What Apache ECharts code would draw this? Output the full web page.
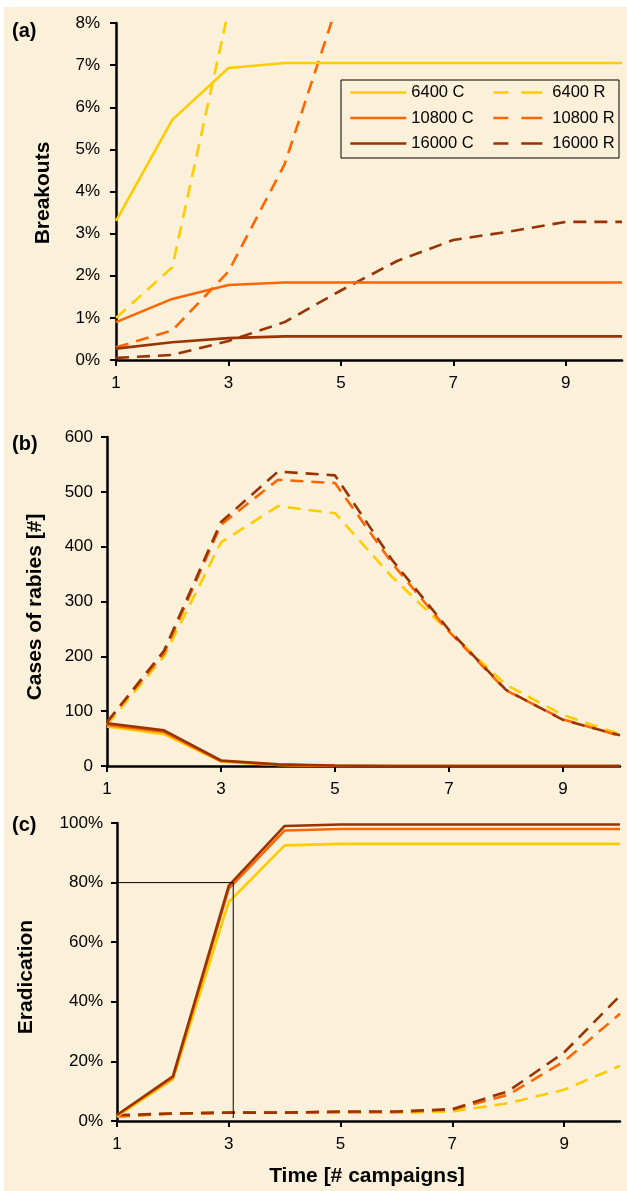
<!DOCTYPE html>
<html>
<head>
<meta charset="utf-8">
<script src="https://cdn.jsdelivr.net/npm/echarts@6/dist/echarts.min.js"></script>
<style>
  html, body { margin: 0; padding: 0; background: #ffffff; }
  #bg { position: absolute; left: 4px; top: 7px; width: 623px; height: 1184px; background: #FBF0D9; }
  #chart { position: absolute; left: 0; top: 0; width: 627px; height: 1191px; }
</style>
</head>
<body>
<div id="bg"></div>
<div id="chart"></div>
<script>
// ---- data ----
const campaigns = [1, 2, 3, 4, 5, 6, 7, 8, 9, 10];
const xTickValues = [1, 3, 5, 7, 9];

// (a) Breakouts [%]
const breakouts6400C  = [3.3, 5.7, 6.93, 7.05, 7.05, 7.05, 7.05, 7.05, 7.05, 7.05];
const breakouts10800C = [0.9, 1.45, 1.78, 1.84, 1.84, 1.84, 1.84, 1.84, 1.84, 1.84];
const breakouts16000C = [0.27, 0.42, 0.52, 0.56, 0.56, 0.56, 0.56, 0.56, 0.56, 0.56];
const breakouts6400R  = [1.0, 2.2, 8.3, null, null, null, null, null, null, null];
const breakouts10800R = [0.3, 0.7, 2.1, 4.65, 8.7, null, null, null, null, null];
const breakouts16000R = [0.05, 0.12, 0.45, 0.9, 1.65, 2.35, 2.85, 3.05, 3.28, 3.28];

// (b) Cases of rabies [#]
const cases6400C  = [72, 58, 8, 2, 0, 0, 0, 0, 0, 0];
const cases10800C = [75, 62, 9, 2, 0, 0, 0, 0, 0, 0];
const cases16000C = [78, 65, 10, 3, 1, 0, 0, 0, 0, 0];
const cases6400R  = [75, 200, 408, 474, 461, 345, 245, 148, 93, 58];
const cases10800R = [80, 205, 440, 522, 516, 370, 245, 138, 85, 55];
const cases16000R = [80, 210, 445, 537, 530, 376, 248, 139, 84, 56];

// (c) Eradication [%]
const erad6400C  = [1.5, 14, 73.5, 92.5, 93, 93, 93, 93, 93, 93];
const erad10800C = [2, 14.5, 78, 97.5, 98, 98, 98, 98, 98, 98];
const erad16000C = [2, 15, 79, 99, 99.5, 99.5, 99.5, 99.5, 99.5, 99.5];
const erad6400R  = [1.5, 2.5, 2.8, 2.8, 2.8, 2.8, 3.2, 6, 10.5, 18.5];
const erad10800R = [1.5, 2.5, 2.8, 2.8, 3, 3, 3.8, 8.8, 20, 36];
const erad16000R = [2, 2.5, 2.8, 2.8, 3.2, 3.2, 4, 10, 23, 42];

// 80% eradication guide (x in campaigns, y in %)
const guide80 = [[1, 80], [3.08, 80], [3.08, 1]];

const seriesNames = ['6400 C', '10800 C', '16000 C', '6400 R', '10800 R', '16000 R'];
const legendC = ['6400 C', '10800 C', '16000 C'];
const legendR = ['6400 R', '10800 R', '16000 R'];

// ---- styling ----
const FONT = "'Liberation Sans', Arial, sans-serif";
const colors = { '6400': '#FFCC00', '10800': '#FF6600', '16000': '#993300' };
const DASH = [13, 8];

function pairs(vals) { return campaigns.map((x, i) => [x, vals[i]]); }

function mkSeries(name, vals, gridIdx, z) {
  const pop = name.split(' ')[0];
  const dashed = name.endsWith('R');
  return {
    name: name, type: 'line', xAxisIndex: gridIdx, yAxisIndex: gridIdx,
    data: pairs(vals), symbol: 'none', showSymbol: false, smooth: false,
    clip: true, z: z, connectNulls: false,
    lineStyle: { color: colors[pop], width: 2.6, type: dashed ? DASH : 'solid', cap: 'butt' },
    itemStyle: { color: colors[pop] },
    emphasis: { disabled: true }
  };
}

const panels = [
  [breakouts6400C, breakouts10800C, breakouts16000C, breakouts6400R, breakouts10800R, breakouts16000R],
  [cases6400C, cases10800C, cases16000C, cases6400R, cases10800R, cases16000R],
  [erad6400C, erad10800C, erad16000C, erad6400R, erad10800R, erad16000R]
];

const series = [];
panels.forEach((arrs, g) => {
  const order = [3, 4, 5, 0, 1, 2];
  order.forEach((k, j) => series.push(mkSeries(seriesNames[k], arrs[k], g, 2 + j)));
});
series.push({
  name: 'guide', type: 'line', xAxisIndex: 2, yAxisIndex: 2, data: guide80,
  symbol: 'none', lineStyle: { color: '#000', width: 1 }, z: 20, emphasis: { disabled: true }
});

const axisLine = { show: true, onZero: false, lineStyle: { color: '#000', width: 2.5 } };
const axisTick = { show: true, inside: false, length: 6, lineStyle: { color: '#000', width: 2 } };

function xAx(g) {
  return {
    type: 'value', gridIndex: g, min: 1, max: 10,
    axisLine: axisLine,
    axisTick: Object.assign({ customValues: xTickValues }, axisTick),
    axisLabel: { customValues: xTickValues, fontFamily: FONT, fontSize: 17, color: '#000', margin: 15 },
    splitLine: { show: false }
  };
}
function yAx(g, max, interval, pct, margin) {
  return {
    type: 'value', gridIndex: g, min: 0, max: max, interval: interval,
    axisLine: axisLine, axisTick: axisTick,
    axisLabel: { fontFamily: FONT, fontSize: 17, color: '#000', margin: margin,
      formatter: pct ? '{value}%' : '{value}' },
    splitLine: { show: false }
  };
}

const legendCommon = {
  orient: 'vertical', top: 79, itemHeight: 14, itemGap: 8.5, padding: 5,
  selectedMode: false,
  itemStyle: { color: 'transparent', borderWidth: 0, opacity: 0 },
  textStyle: { fontFamily: FONT, fontSize: 16.5, color: '#000' }
};

const option = {
  backgroundColor: 'transparent',
  animation: false,
  textStyle: { fontFamily: FONT },
  grid: [
    { left: 116, top: 23, width: 506, height: 337 },
    { left: 107, top: 437, width: 513, height: 329 },
    { left: 117, top: 823, width: 503, height: 298 }
  ],
  xAxis: [xAx(0), xAx(1), xAx(2)],
  yAxis: [yAx(0, 8, 1, true, 16), yAx(1, 600, 100, false, 14), yAx(2, 100, 20, true, 14)],
  legend: [
    Object.assign({}, legendCommon, { data: legendC, left: 344, itemWidth: 56,
      lineStyle: { width: 2.6 } }),
    Object.assign({}, legendCommon, { data: legendR, left: 487, itemWidth: 49,
      lineStyle: { width: 2.6, type: [15, 13, 21, 13] },
      textStyle: Object.assign({}, legendCommon.textStyle, { padding: [0, 0, 0, 5] }) })
  ],
  graphic: [
    { type: 'rect', shape: { x: 341, y: 80, width: 278, height: 78 }, z: 0,
      style: { fill: 'rgba(0,0,0,0)', stroke: '#000', lineWidth: 1 } },
    { type: 'text', x: 12, y: 31, style: { text: '(a)', font: "bold 20px " + FONT, fill: '#000', verticalAlign: 'middle' } },
    { type: 'text', x: 12, y: 444, style: { text: '(b)', font: "bold 20px " + FONT, fill: '#000', verticalAlign: 'middle' } },
    { type: 'text', x: 12, y: 825, style: { text: '(c)', font: "bold 20px " + FONT, fill: '#000', verticalAlign: 'middle' } },
    { type: 'text', x: 43, y: 193, rotation: Math.PI / 2,
      style: { text: 'Breakouts', font: "bold 21px " + FONT, fill: '#000', align: 'center', verticalAlign: 'middle' } },
    { type: 'text', x: 35, y: 607, rotation: Math.PI / 2,
      style: { text: 'Cases of rabies [#]', font: "bold 21px " + FONT, fill: '#000', align: 'center', verticalAlign: 'middle' } },
    { type: 'text', x: 26, y: 977, rotation: Math.PI / 2,
      style: { text: 'Eradication', font: "bold 21px " + FONT, fill: '#000', align: 'center', verticalAlign: 'middle' } },
    { type: 'text', x: 367, y: 1176,
      style: { text: 'Time [# campaigns]', font: "bold 21px " + FONT, fill: '#000', align: 'center', verticalAlign: 'middle' } }
  ],
  series: series
};

const chart = echarts.init(document.getElementById('chart'), null, { renderer: 'canvas' });
chart.setOption(option);
</script>
</body>
</html>
